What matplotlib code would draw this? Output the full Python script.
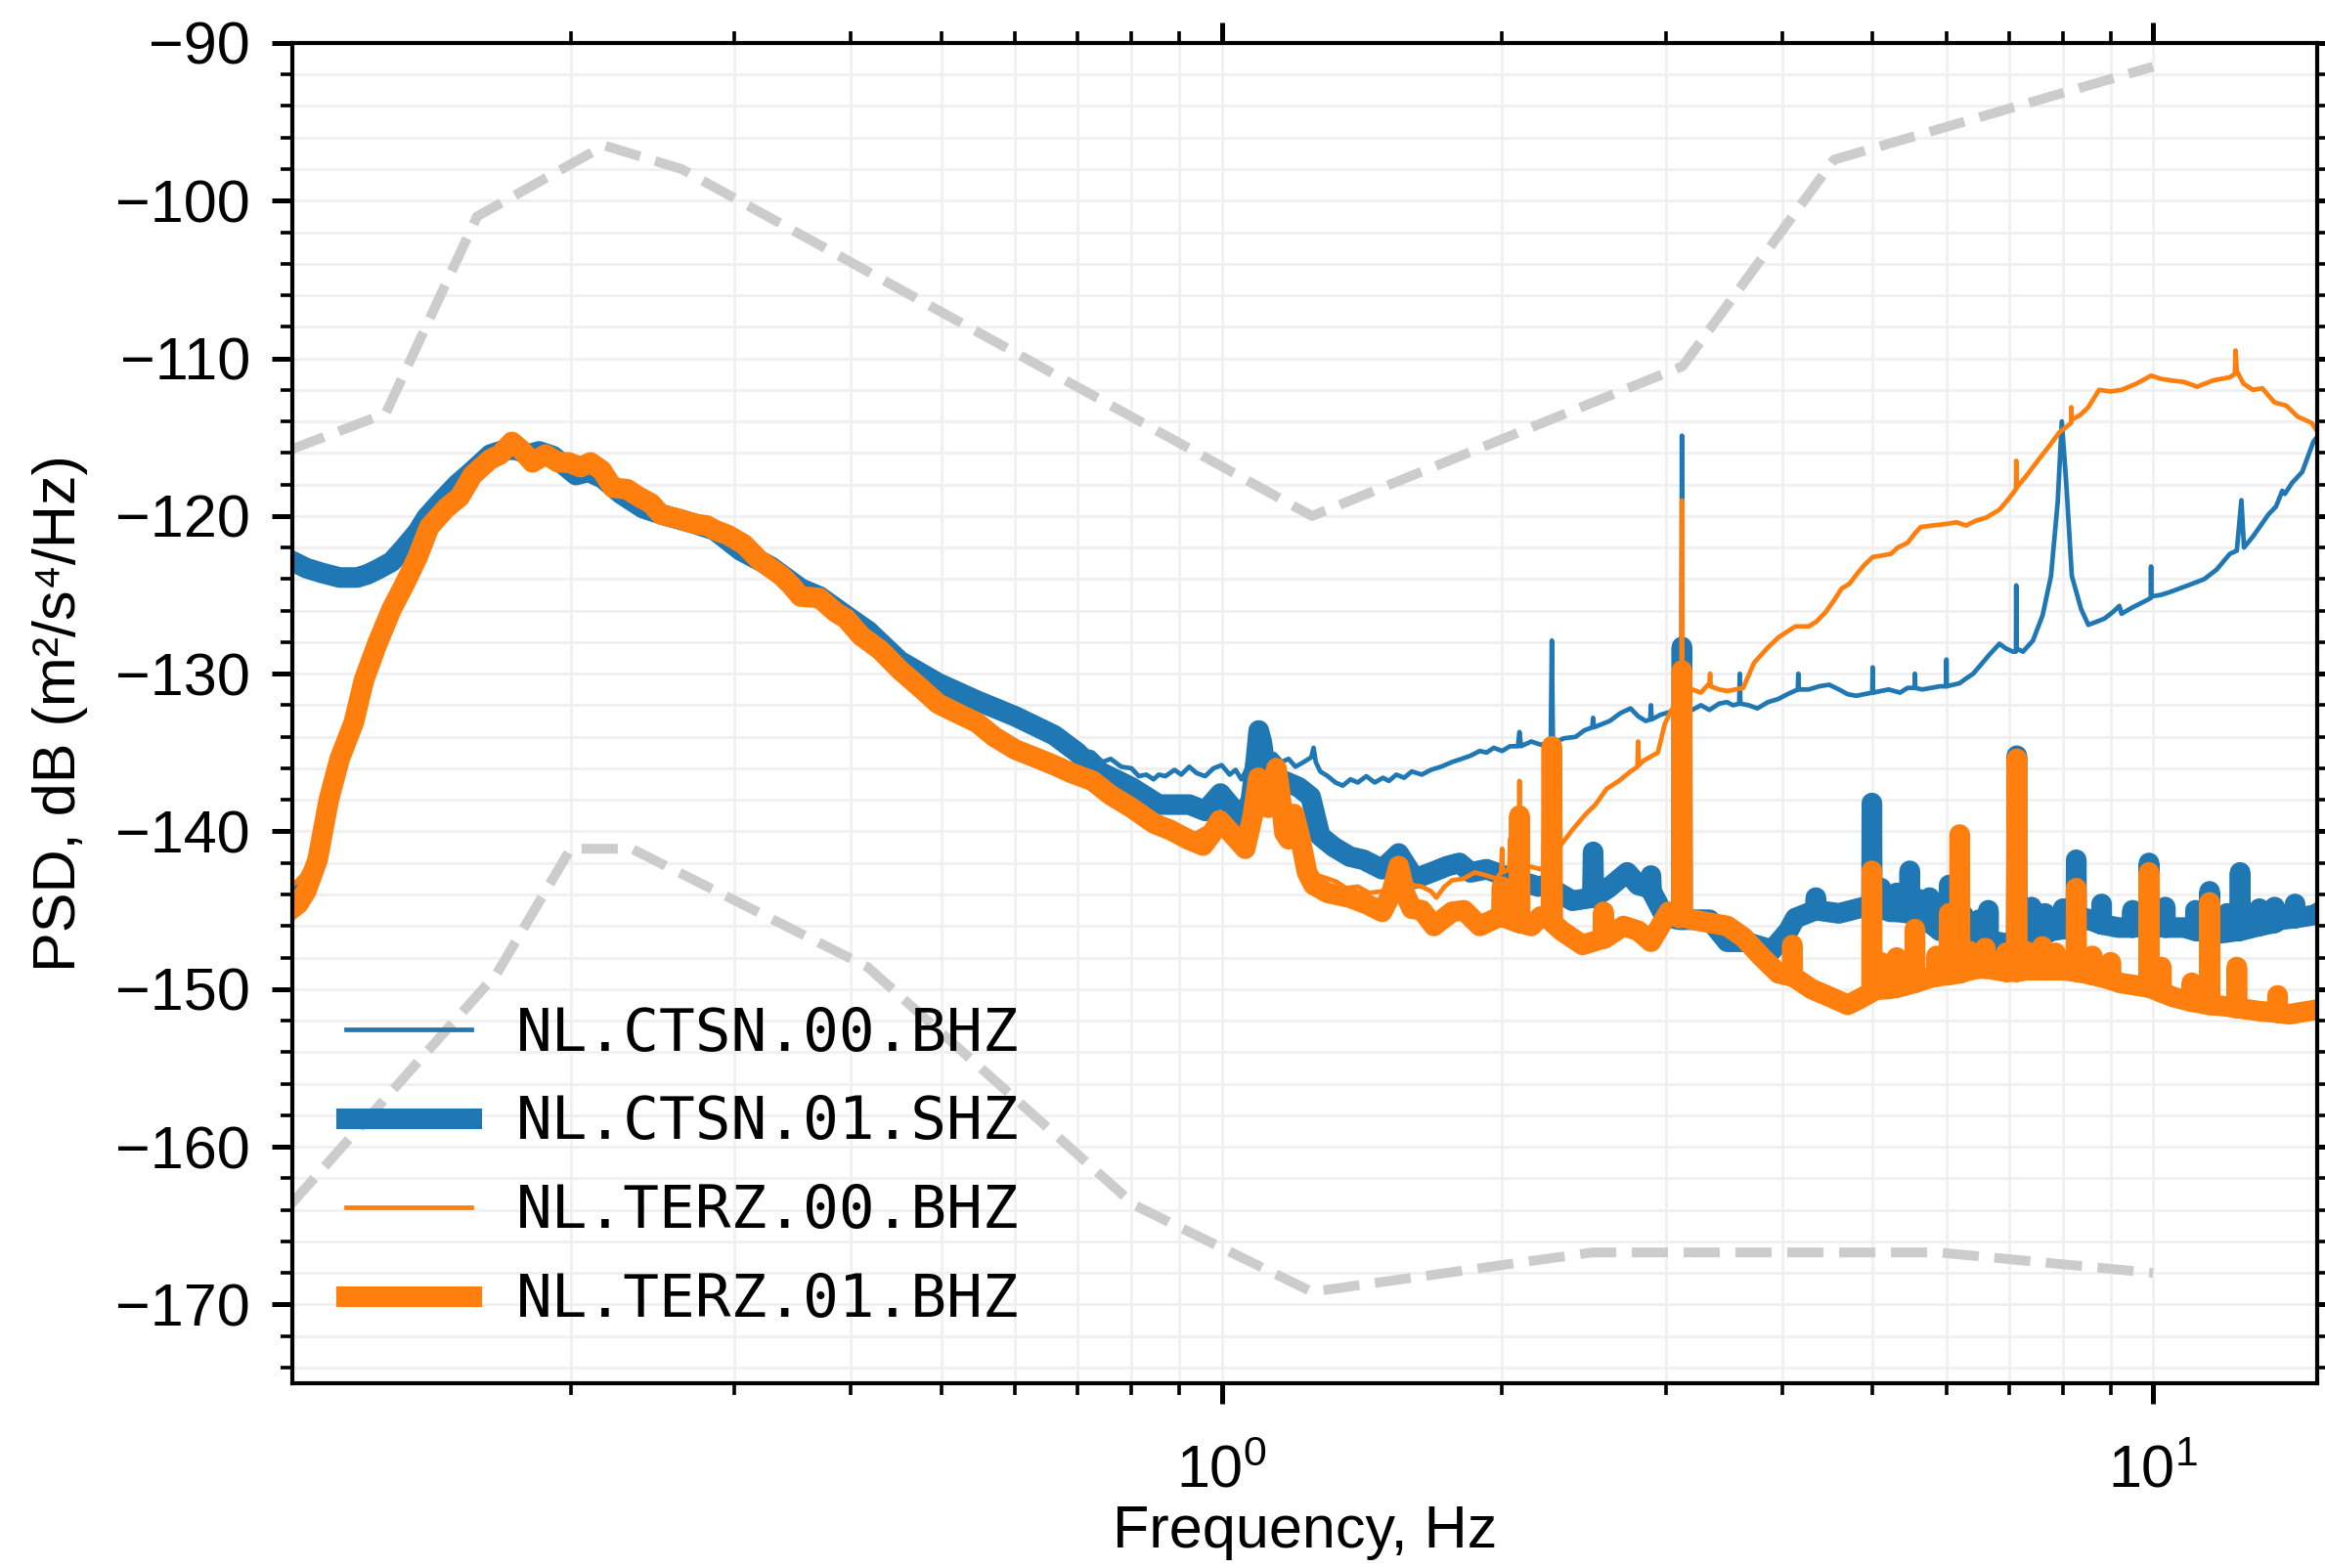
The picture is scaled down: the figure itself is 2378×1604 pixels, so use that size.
import numpy as np
import matplotlib
matplotlib.use("Agg")
import matplotlib.pyplot as plt
from matplotlib.ticker import MultipleLocator, LogLocator, NullFormatter

plt.rcParams["font.family"] = ["Liberation Sans", "DejaVu Sans"]
plt.rcParams["mathtext.fontset"] = "custom"
plt.rcParams["mathtext.rm"] = "Liberation Sans"
plt.rcParams["mathtext.it"] = "Liberation Sans:italic"
plt.rcParams["mathtext.bf"] = "Liberation Sans:bold"

# ---------------------------------------------------------------------------
# Peterson noise models, (Hz, dB)
# ---------------------------------------------------------------------------
NHNM = [(0.100, -115.8), (0.1266, -113.5), (0.1587, -101.0), (0.2174, -96.5),
        (0.2632, -98.0), (1.25, -120.0), (3.125, -110.5), (4.545, -97.4),
        (10.0, -91.5)]
NLNM = [(0.100, -163.7), (0.1667, -149.0), (0.200, -141.1), (0.2326, -141.1),
        (0.4167, -148.6), (0.806, -163.7), (1.25, -169.2), (2.5, -166.7),
        (5.88, -166.7), (10.0, -168.0)]

# ---------------------------------------------------------------------------
# PSD curves, (Hz, dB)
# ---------------------------------------------------------------------------
CTSN_00_BHZ = [
    (0.100, -143.8), (0.103, -143.0), (0.106, -141.6), (0.110, -137.8), (0.113, -135.2),
    (0.117, -132.9), (0.120, -130.2), (0.124, -127.9), (0.1285, -125.7), (0.133, -124.0),
    (0.137, -122.4), (0.141, -120.6), (0.147, -119.2), (0.152, -118.4), (0.157, -117.3),
    (0.164, -116.2), (0.175, -115.6), (0.185, -116.0), (0.1915, -116.3), (0.2026, -117.2),
    (0.2164, -117.5), (0.2265, -118.5), (0.2391, -119.4), (0.2505, -119.8), (0.2721, -120.4),
    (0.2855, -120.8), (0.3046, -122.0), (0.3279, -123.1), (0.3533, -124.5), (0.370, -125.0),
    (0.395, -126.2), (0.4176, -127.2), (0.4515, -129.0), (0.4963, -130.4), (0.5457, -131.5),
    (0.600, -132.5), (0.615, -132.9), (0.630, -132.8), (0.645, -133.4), (0.661, -133.5),
    (0.680, -134.1), (0.700, -134.4), (0.715, -134.9), (0.727, -135.0), (0.745, -135.6),
    (0.760, -135.4), (0.780, -135.9), (0.800, -136.0), (0.815, -136.5), (0.830, -136.4),
    (0.845, -136.7), (0.856, -136.4), (0.870, -136.5), (0.890, -136.1), (0.905, -136.4),
    (0.923, -135.9), (0.940, -136.3), (0.960, -136.5), (0.980, -136.0), (1.000, -135.8),
    (1.020, -136.4), (1.035, -136.1), (1.050, -136.7), (1.065, -136.0), (1.080, -135.4),
    (1.090, -134.6), (1.100, -133.2), (1.108, -134.3), (1.115, -134.8), (1.125, -135.4),
    (1.140, -135.1), (1.160, -135.6), (1.180, -135.4), (1.200, -135.9), (1.225, -135.6),
    (1.248, -135.3), (1.255, -134.7), (1.262, -135.6), (1.276, -136.2), (1.300, -136.5),
    (1.325, -136.9), (1.349, -137.1), (1.375, -136.7), (1.400, -136.9), (1.430, -136.5),
    (1.460, -136.9), (1.490, -136.6), (1.512, -136.8), (1.540, -136.4), (1.570, -136.6),
    (1.600, -136.2), (1.640, -136.4), (1.677, -136.1), (1.720, -135.9), (1.768, -135.6),
    (1.810, -135.4), (1.850, -135.2), (1.893, -134.9), (1.925, -135.0), (1.960, -134.7),
    (2.000, -134.9), (2.040, -134.6), (2.080, -134.6), (2.088, -133.7), (2.096, -134.6),
    (2.150, -134.3), (2.200, -134.5), (2.256, -134.4), (2.262, -127.9), (2.268, -134.4),
    (2.330, -134.1), (2.400, -134.0), (2.450, -133.6), (2.500, -133.4), (2.505, -132.8),
    (2.510, -133.4), (2.560, -133.2), (2.610, -133.0), (2.680, -132.5), (2.748, -132.2),
    (2.800, -132.7), (2.853, -133.0), (2.885, -132.9), (2.890, -132.0), (2.895, -132.9),
    (2.960, -132.6), (3.040, -132.4), (3.115, -132.4), (3.120, -114.9), (3.125, -132.4),
    (3.200, -132.3), (3.270, -132.0), (3.340, -132.3), (3.420, -131.9), (3.487, -131.8),
    (3.540, -132.0), (3.595, -131.9), (3.600, -130.0), (3.605, -131.9), (3.680, -132.0),
    (3.760, -132.2), (3.860, -131.8), (3.960, -131.6), (4.050, -131.3), (4.155, -131.0),
    (4.160, -130.0), (4.165, -131.0), (4.270, -131.0), (4.380, -130.8), (4.490, -130.7),
    (4.600, -131.0), (4.700, -131.3), (4.800, -131.4), (4.900, -131.3), (4.995, -131.2),
    (5.000, -129.6), (5.005, -131.2), (5.100, -131.1), (5.200, -131.0), (5.350, -131.2),
    (5.450, -130.9), (5.545, -130.9), (5.550, -130.0), (5.555, -130.9), (5.650, -131.0),
    (5.780, -130.9), (5.900, -130.8), (5.995, -130.8), (6.000, -129.1), (6.005, -130.8),
    (6.100, -130.7), (6.200, -130.6), (6.300, -130.3), (6.410, -130.0), (6.540, -129.4),
    (6.670, -128.8), (6.840, -128.1), (6.950, -128.4), (7.070, -128.6), (7.125, -128.6),
    (7.130, -124.4), (7.135, -128.4), (7.250, -128.6), (7.430, -127.9), (7.610, -126.3),
    (7.770, -123.8), (7.900, -119.1), (7.980, -114.0), (8.070, -118.0), (8.180, -123.8),
    (8.370, -125.9), (8.520, -126.9), (8.700, -126.7), (8.870, -126.5), (9.050, -126.1),
    (9.200, -125.7), (9.250, -126.2), (9.500, -125.8), (9.800, -125.4), (9.945, -125.2),
    (9.950, -123.2), (9.955, -125.1), (10.200, -125.0), (10.450, -124.8), (10.900, -124.4),
    (11.350, -124.0), (11.700, -123.4), (12.090, -122.4), (12.300, -122.2), (12.440, -119.0),
    (12.520, -122.0), (12.800, -121.3), (13.300, -119.9), (13.550, -119.4), (13.700, -118.7),
    (13.760, -118.4), (13.850, -118.6), (14.100, -117.9), (14.460, -117.2), (14.860, -115.3),
    (15.000, -115.0),
]

CTSN_01_SHZ = [
    (0.100, -122.8), (0.104, -123.3), (0.108, -123.6), (0.113, -123.9), (0.118, -123.9),
    (0.121, -123.7), (0.124, -123.4), (0.1285, -122.9), (0.1326, -122.0), (0.137, -121.0),
    (0.140, -120.1), (0.1455, -119.0), (0.151, -118.0), (0.1565, -117.2), (0.164, -116.1),
    (0.170, -115.8), (0.1748, -115.8), (0.180, -116.1), (0.185, -115.9), (0.1915, -116.2),
    (0.197, -116.8), (0.2026, -117.4), (0.209, -117.2), (0.2164, -117.6), (0.2265, -118.6),
    (0.2391, -119.5), (0.2505, -119.9), (0.2721, -120.5), (0.2855, -120.9), (0.3046, -122.2),
    (0.3279, -123.2), (0.3533, -124.6), (0.370, -125.1), (0.395, -126.3), (0.4176, -127.3),
    (0.4515, -129.2), (0.4963, -130.6), (0.5457, -131.7), (0.600, -132.7), (0.661, -133.9),
    (0.700, -135.0), (0.727, -136.0), (0.800, -137.2), (0.856, -138.3), (0.923, -138.3),
    (0.960, -138.7), (0.997, -137.6), (1.030, -138.6), (1.052, -139.3), (1.075, -138.0),
    (1.088, -135.5), (1.096, -133.6), (1.104, -134.3), (1.115, -136.0), (1.130, -137.0),
    (1.167, -136.8), (1.210, -137.2), (1.246, -137.8), (1.276, -140.3), (1.320, -141.0),
    (1.373, -141.6), (1.420, -141.8), (1.487, -142.4), (1.549, -141.4), (1.612, -143.0),
    (1.680, -142.6), (1.747, -142.2), (1.800, -142.0), (1.850, -142.6), (1.925, -142.4),
    (2.010, -142.8), (2.053, -143.0), (2.187, -143.5), (2.226, -143.4), (2.380, -144.4),
    (2.500, -144.2), (2.505, -141.3), (2.510, -144.2), (2.600, -143.6), (2.725, -142.6),
    (2.800, -143.4), (2.885, -143.6), (2.890, -142.8), (2.895, -143.8), (2.990, -145.4),
    (3.100, -145.6), (3.115, -145.6), (3.120, -128.3), (3.125, -145.6), (3.340, -145.6),
    (3.490, -147.0), (3.650, -147.0), (3.840, -147.4), (3.890, -147.6), (4.060, -146.3),
    (4.130, -145.5), (4.340, -145.0), (4.345, -144.2), (4.350, -145.0), (4.600, -145.2),
    (4.890, -144.8), (4.985, -145.0), (4.990, -138.2), (4.995, -145.0), (5.100, -144.9),
    (5.105, -143.6), (5.110, -144.9), (5.220, -145.1), (5.300, -145.1), (5.305, -143.9),
    (5.310, -145.1), (5.475, -145.2), (5.480, -142.5), (5.485, -145.2), (5.600, -145.4),
    (5.605, -144.3), (5.610, -145.4), (5.660, -145.5), (5.750, -145.8), (5.755, -144.2),
    (5.760, -145.8), (5.900, -146.3), (6.035, -146.4), (6.040, -143.4), (6.045, -146.4),
    (6.250, -146.6), (6.255, -145.3), (6.260, -146.6), (6.380, -146.7), (6.500, -146.8),
    (6.505, -145.6), (6.510, -146.8), (6.650, -146.9), (6.655, -145.0), (6.660, -146.9),
    (6.930, -147.1), (7.130, -147.0), (7.140, -135.2), (7.150, -147.0), (7.400, -146.6),
    (7.405, -144.8), (7.410, -146.6), (7.650, -146.5), (7.655, -145.2), (7.660, -146.5),
    (7.800, -146.3), (8.000, -146.2), (8.005, -144.9), (8.010, -146.2), (8.260, -146.0),
    (8.270, -141.8), (8.280, -146.0), (8.450, -145.5), (8.800, -145.9), (8.805, -144.6),
    (8.810, -145.9), (9.180, -146.1), (9.500, -146.1), (9.505, -145.0), (9.510, -146.1),
    (9.890, -146.0), (9.900, -142.0), (9.910, -146.0), (10.300, -146.1), (10.305, -144.8),
    (10.310, -146.1), (10.800, -146.1), (11.100, -146.3), (11.105, -145.0), (11.110, -146.3),
    (11.490, -146.4), (11.500, -143.8), (11.510, -146.4), (11.700, -146.5), (12.000, -146.4),
    (12.005, -145.2), (12.010, -146.4), (12.390, -146.3), (12.400, -142.6), (12.410, -146.3),
    (13.000, -146.0), (13.005, -144.9), (13.010, -146.0), (13.500, -145.8), (13.505, -144.8),
    (13.510, -145.8), (13.700, -145.6), (14.200, -145.5), (14.205, -144.6), (14.210, -145.5),
    (14.900, -145.3), (15.000, -145.2),
]

TERZ_00_BHZ = [
    (0.100, -143.6), (0.103, -142.8), (0.106, -141.4), (0.110, -137.9), (0.113, -135.3),
    (0.117, -133.0), (0.120, -130.3), (0.124, -128.0), (0.1285, -125.8), (0.133, -124.1),
    (0.137, -122.5), (0.141, -120.7), (0.147, -119.4), (0.152, -118.7), (0.157, -117.4),
    (0.164, -116.4), (0.173, -115.4), (0.182, -116.5), (0.194, -116.5), (0.205, -116.8),
    (0.216, -117.1), (0.230, -118.3), (0.250, -119.8), (0.272, -120.5), (0.295, -121.2),
    (0.319, -122.7), (0.345, -124.4), (0.370, -125.2), (0.395, -126.5), (0.430, -128.5),
    (0.475, -130.9), (0.520, -132.5), (0.570, -134.0), (0.630, -135.3), (0.690, -136.3),
    (0.760, -137.6), (0.846, -139.4), (0.920, -140.4), (0.995, -139.3), (1.060, -141.0),
    (1.095, -136.8), (1.122, -138.4), (1.145, -136.2), (1.168, -140.0), (1.196, -139.0),
    (1.230, -141.8), (1.270, -142.8), (1.300, -143.0), (1.329, -143.2), (1.360, -143.6),
    (1.400, -143.5), (1.440, -143.9), (1.488, -143.8), (1.530, -143.0), (1.561, -142.2),
    (1.600, -143.4), (1.640, -143.5), (1.678, -143.8), (1.700, -144.2), (1.735, -143.5),
    (1.768, -143.1), (1.818, -143.0), (1.870, -142.6), (1.925, -142.8), (1.973, -143.0),
    (1.996, -142.6), (2.000, -141.1), (2.004, -142.6), (2.036, -142.4), (2.040, -140.5),
    (2.044, -142.4), (2.070, -142.2), (2.084, -142.2), (2.088, -136.8), (2.092, -142.2),
    (2.135, -142.2), (2.200, -142.4), (2.260, -141.6), (2.317, -140.8), (2.380, -139.9),
    (2.460, -138.9), (2.520, -138.3), (2.590, -137.3), (2.670, -136.8), (2.748, -136.2),
    (2.795, -135.9), (2.800, -134.3), (2.805, -135.8), (2.840, -135.5), (2.940, -135.0),
    (2.990, -133.2), (3.040, -132.3), (3.100, -131.8), (3.116, -131.6), (3.120, -119.0),
    (3.124, -131.4), (3.200, -131.0), (3.270, -131.2), (3.340, -130.6), (3.345, -130.0),
    (3.350, -130.8), (3.420, -131.0), (3.490, -131.1), (3.630, -130.9), (3.730, -129.3),
    (3.850, -128.4), (3.960, -127.7), (4.130, -127.0), (4.270, -127.0), (4.350, -126.7),
    (4.450, -126.1), (4.550, -125.3), (4.630, -124.6), (4.720, -124.3), (4.820, -123.6),
    (4.900, -123.1), (5.000, -122.6), (5.120, -122.5), (5.230, -122.4), (5.320, -122.0),
    (5.450, -121.7), (5.550, -121.1), (5.630, -120.7), (5.800, -120.6), (6.000, -120.5),
    (6.150, -120.4), (6.300, -120.6), (6.450, -120.3), (6.620, -120.1), (6.840, -119.6),
    (7.000, -118.9), (7.125, -118.3), (7.130, -116.5), (7.135, -118.2), (7.300, -117.5),
    (7.540, -116.4), (7.750, -115.5), (7.930, -114.7), (8.050, -114.4), (8.165, -114.1),
    (8.170, -113.1), (8.175, -113.9), (8.350, -113.6), (8.520, -113.1), (8.750, -112.0),
    (9.000, -112.1), (9.250, -112.0), (9.600, -111.6), (9.950, -111.1), (10.200, -111.3),
    (10.450, -111.4), (10.800, -111.5), (11.150, -111.8), (11.600, -111.4), (12.090, -111.2),
    (12.240, -111.0), (12.260, -109.5), (12.300, -110.8), (12.500, -111.6), (12.800, -112.0),
    (13.100, -111.9), (13.500, -112.8), (13.900, -113.0), (14.300, -113.7), (14.800, -114.1),
    (15.000, -114.6),
]

TERZ_01_BHZ = [
    (0.100, -145.0), (0.102, -144.6), (0.104, -143.8), (0.107, -141.8), (0.110, -138.0),
    (0.113, -135.4), (0.117, -133.1), (0.120, -130.4), (0.124, -128.1), (0.1285, -125.9),
    (0.133, -124.2), (0.137, -122.6), (0.141, -120.7), (0.147, -119.5), (0.152, -118.8),
    (0.157, -117.4), (0.164, -116.4), (0.168, -116.1), (0.173, -115.3), (0.177, -115.8),
    (0.182, -116.6), (0.188, -116.1), (0.194, -116.6), (0.199, -116.6), (0.205, -116.9),
    (0.210, -116.6), (0.216, -117.1), (0.222, -118.2), (0.230, -118.3), (0.237, -118.8),
    (0.244, -119.2), (0.250, -119.9), (0.262, -120.2), (0.272, -120.5), (0.280, -120.6),
    (0.286, -120.9), (0.295, -121.2), (0.307, -121.8), (0.319, -122.8), (0.328, -123.3),
    (0.337, -123.8), (0.345, -124.4), (0.353, -125.1), (0.370, -125.2), (0.385, -126.1),
    (0.395, -126.5), (0.410, -127.6), (0.430, -128.5), (0.452, -129.8), (0.475, -130.9),
    (0.496, -131.9), (0.520, -132.5), (0.546, -133.1), (0.570, -134.0), (0.600, -134.8),
    (0.630, -135.3), (0.661, -135.8), (0.690, -136.3), (0.727, -136.8), (0.760, -137.7),
    (0.800, -138.5), (0.846, -139.5), (0.880, -139.9), (0.920, -140.5), (0.955, -140.9),
    (0.975, -140.2), (0.995, -139.3), (1.020, -140.0), (1.060, -141.1), (1.080, -139.0),
    (1.095, -136.6), (1.110, -137.8), (1.122, -138.5), (1.135, -137.2), (1.145, -136.0),
    (1.155, -137.5), (1.168, -140.1), (1.180, -140.5), (1.196, -138.9), (1.215, -140.5),
    (1.235, -142.6), (1.255, -143.4), (1.300, -143.9), (1.372, -144.2), (1.430, -144.6),
    (1.487, -145.1), (1.520, -144.0), (1.549, -142.2), (1.575, -144.0), (1.600, -144.9),
    (1.640, -145.0), (1.690, -146.0), (1.768, -145.1), (1.820, -145.0), (1.893, -146.0),
    (1.973, -145.5), (1.996, -145.4), (2.000, -143.5), (2.004, -145.4), (2.040, -145.6),
    (2.084, -145.8), (2.088, -139.0), (2.092, -145.8), (2.150, -146.0), (2.200, -145.4),
    (2.257, -145.6), (2.262, -134.6), (2.267, -145.8), (2.317, -146.3), (2.440, -147.2),
    (2.565, -146.8), (2.570, -145.1), (2.575, -146.8), (2.700, -146.0), (2.800, -146.3),
    (2.890, -147.0), (3.020, -145.1), (3.100, -145.5), (3.115, -145.4), (3.120, -129.8),
    (3.125, -145.4), (3.200, -145.6), (3.340, -145.8), (3.490, -146.0), (3.630, -146.7),
    (3.790, -147.9), (3.960, -149.0), (4.095, -149.2), (4.100, -147.2), (4.105, -149.2),
    (4.300, -150.0), (4.500, -150.5), (4.700, -151.0), (4.850, -150.6), (4.985, -150.2),
    (4.990, -142.5), (4.995, -150.1), (5.100, -150.0), (5.105, -148.3), (5.110, -150.0),
    (5.200, -150.0), (5.300, -149.9), (5.305, -148.0), (5.310, -149.9), (5.400, -149.8),
    (5.545, -149.6), (5.550, -146.2), (5.555, -149.6), (5.750, -149.3), (5.850, -149.2),
    (5.855, -147.9), (5.860, -149.2), (6.035, -149.1), (6.040, -145.2), (6.045, -149.1),
    (6.195, -149.0), (6.200, -140.2), (6.205, -149.0), (6.350, -148.8), (6.355, -147.6),
    (6.360, -148.8), (6.500, -148.7), (6.600, -148.7), (6.605, -147.4), (6.610, -148.7),
    (6.800, -148.8), (6.950, -148.9), (6.955, -147.7), (6.960, -148.9), (7.130, -148.9),
    (7.140, -135.4), (7.150, -148.9), (7.300, -148.8), (7.305, -147.6), (7.310, -148.8),
    (7.500, -148.8), (7.600, -148.8), (7.605, -147.3), (7.610, -148.8), (7.850, -148.8),
    (7.855, -147.7), (7.860, -148.8), (8.000, -148.8), (8.260, -148.9), (8.270, -143.6),
    (8.280, -148.9), (8.600, -149.1), (8.605, -147.9), (8.610, -149.1), (9.000, -149.4),
    (9.005, -148.3), (9.010, -149.4), (9.200, -149.6), (9.890, -149.9), (9.900, -142.6),
    (9.910, -149.9), (10.200, -150.2), (10.205, -148.6), (10.210, -150.2), (10.500, -150.5),
    (11.000, -150.8), (11.005, -149.6), (11.010, -150.8), (11.490, -151.0), (11.500, -144.5),
    (11.510, -151.0), (12.000, -151.1), (12.290, -151.2), (12.300, -148.6), (12.310, -151.2),
    (13.000, -151.4), (13.600, -151.5), (13.605, -150.4), (13.610, -151.5), (14.000, -151.6),
    (15.000, -151.3),
]

LABELS = ["NL.CTSN.00.BHZ", "NL.CTSN.01.SHZ", "NL.TERZ.00.BHZ", "NL.TERZ.01.BHZ"]
SERIES = [CTSN_00_BHZ, CTSN_01_SHZ, TERZ_00_BHZ, TERZ_01_BHZ]
COLORS = ["#1f77b4", "#1f77b4", "#ff7f0e", "#ff7f0e"]
WIDTHS = [1.7, 7.6, 1.7, 7.6]

fig = plt.figure(figsize=(11.89, 8.02), dpi=200)
ax = fig.add_axes([0.1257, 0.1178, 0.8709, 0.8548])

for model in (NHNM, NLNM):
    f, p = np.array(model).T
    ax.plot(f, p, color="#cccccc", linestyle="--", linewidth=3.6, zorder=1)

for data, label, color, lw in zip(SERIES, LABELS, COLORS, WIDTHS):
    f, p = np.array(data).T
    ax.plot(f, p, color=color, linewidth=lw, label=label, zorder=2)

ax.set_xscale("log")
ax.set_xlim(0.1005, 15)
ax.set_ylim(-175, -90)
ax.yaxis.set_major_locator(MultipleLocator(10))
ax.yaxis.set_minor_locator(MultipleLocator(2))
ax.xaxis.set_major_locator(LogLocator(base=10))
ax.xaxis.set_minor_locator(LogLocator(base=10, subs=np.arange(2, 10)))
ax.xaxis.set_minor_formatter(NullFormatter())

ax.grid(True, which="both", color="#f0f0f0", linewidth=1.0)
ax.set_axisbelow(True)
for sp in ax.spines.values():
    sp.set_linewidth(1.5)

ax.tick_params(which="both", direction="out", top=True, right=True, labelsize=22)
ax.tick_params(which="major", length=7.5, width=1.8)
ax.tick_params(which="minor", length=4.3, width=1.3)
ax.tick_params(axis="y", pad=8)
ax.tick_params(axis="x", pad=15)

ax.set_xlabel("Frequency, Hz", fontsize=22, labelpad=1.5)
ax.set_ylabel("PSD, dB (m²/s⁴/Hz)", fontsize=22, labelpad=10)

ax.legend(loc="lower left", frameon=False,
          prop={"family": "DejaVu Sans Mono", "size": 22},
          handlelength=2.1, handletextpad=0.75, labelspacing=0.52)

fig.savefig("out.png", dpi=200)
